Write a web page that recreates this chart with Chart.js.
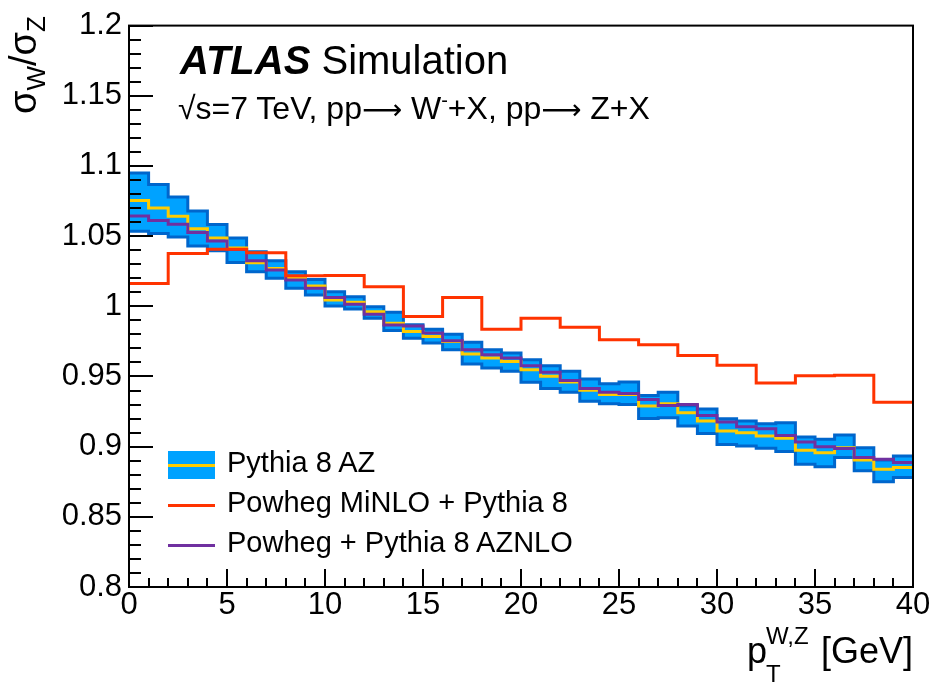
<!DOCTYPE html>
<html lang="en">
<head>
<meta charset="UTF-8">
<title>sigma_W / sigma_Z vs pT</title>
<script src="https://cdn.jsdelivr.net/npm/chart.js"></script>
<style>
  body, html { margin: 0; padding: 0; background: #fff; }
  #wrap { position: relative; width: 940px; height: 683px; font-family: "Liberation Sans", Arial, Helvetica, sans-serif; color: #000; }
  #wrap canvas { position: absolute; left: 0; top: 0; }
  .txt { position: absolute; white-space: nowrap; line-height: 1; }
  .leg { position: absolute; }
  .arr { font-family: "DejaVu Sans", sans-serif; font-size: 28px; }
  sub, sup { line-height: 0; }
</style>
</head>
<body>
<div id="wrap">
  <canvas id="chartCanvas" width="940" height="683"></canvas>

  <div class="txt" style="left:180px; top:40px; font-size:40px;"><b><i>ATLAS</i></b> Simulation</div>
  <div class="txt" style="left:178px; top:92px; font-size:32px;">√s=7 TeV, pp<span class="arr">⟶</span> W<sup style="font-size:20px">-</sup>+X, pp<span class="arr">⟶</span> Z+X</div>

  <!-- legend -->
  <div class="leg" style="left:168px; top:451px; width:47px; height:28px; background:#00a2ff;"></div>
  <div class="leg" style="left:168px; top:464px; width:47px; height:3px; background:#ffcc00;"></div>
  <div class="leg" style="left:168px; top:504px; width:47px; height:3px; background:#ff3300;"></div>
  <div class="leg" style="left:168px; top:544px; width:47px; height:3px; background:#7030a0;"></div>
  <div class="txt" style="left:227px; top:448px; font-size:29px;">Pythia 8 AZ</div>
  <div class="txt" style="left:227px; top:488px; font-size:29px;">Powheg MiNLO + Pythia 8</div>
  <div class="txt" style="left:227px; top:528px; font-size:29px;">Powheg + Pythia 8 AZNLO</div>

  <!-- axis titles -->
  <div class="txt" style="left:747px; top:633px; font-size:36px;">p</div>
  <div class="txt" style="left:766px; top:624px; font-size:24px;">W,Z</div>
  <div class="txt" style="left:766px; top:662px; font-size:24px;">T</div>
  <div class="txt" style="right:27px; top:633px; font-size:36px;">[GeV]</div>
  <div class="txt" style="left:4px; top:114px; font-size:38px; transform:rotate(-90deg); transform-origin:left top;">σ<sub style="font-size:26px">W</sub>/σ<sub style="font-size:26px">Z</sub></div>
</div>

<script>
// bin edges [GeV]
const ptEdges = [0, 1, 2, 3, 4, 5, 6, 7, 8, 9, 10, 11, 12, 13, 14, 15, 16, 17, 18, 19, 20,
                 21, 22, 23, 24, 25, 26, 27, 28, 29, 30, 31, 32, 33, 34, 35, 36, 37, 38, 39, 40];
const ptEdgesWide = [0, 2, 4, 6, 8, 10, 12, 14, 16, 18, 20, 22, 24, 26, 28, 30, 32, 34, 36, 38, 40];

// Pythia 8 AZ: nominal and band
const azNominal = [1.0754, 1.0700, 1.0641, 1.0553, 1.0487, 1.0416, 1.0310, 1.0270, 1.0199, 1.0144,
                   1.0045, 1.0028, 0.9962, 0.9879, 0.9821, 0.9785, 0.9750, 0.9661, 0.9631, 0.9607,
                   0.9548, 0.9501, 0.9461, 0.9402, 0.9371, 0.9371, 0.9289, 0.9305, 0.9241, 0.9182,
                   0.9111, 0.9099, 0.9076, 0.9059, 0.8974, 0.8957, 0.8993, 0.8905, 0.8839, 0.8851];
const azUp = [1.0950, 1.0868, 1.0778, 1.0679, 1.0582, 1.0487, 1.0388, 1.0324, 1.0246, 1.0191,
              1.0104, 1.0068, 0.9997, 0.9957, 0.9868, 0.9837, 0.9801, 0.9743, 0.9690, 0.9667,
              0.9619, 0.9577, 0.9537, 0.9482, 0.9449, 0.9461, 0.9364, 0.9388, 0.9291, 0.9268,
              0.9199, 0.9182, 0.9163, 0.9170, 0.9069, 0.9052, 0.9083, 0.8993, 0.8905, 0.8934];
const azDown = [1.0534, 1.0518, 1.0494, 1.0430, 1.0395, 1.0312, 1.0246, 1.0199, 1.0128, 1.0080,
                1.0002, 0.9981, 0.9915, 0.9828, 0.9773, 0.9738, 0.9690, 0.9589, 0.9560, 0.9537,
                0.9459, 0.9414, 0.9388, 0.9324, 0.9305, 0.9300, 0.9201, 0.9206, 0.9147, 0.9094,
                0.9016, 0.9005, 0.8988, 0.8965, 0.8875, 0.8856, 0.8922, 0.8828, 0.8750, 0.8780];

// Powheg + Pythia 8 AZNLO
const aznlo = [1.0643, 1.0612, 1.0584, 1.0525, 1.0466, 1.0404, 1.0324, 1.0258, 1.0187, 1.0128,
               1.0062, 1.0014, 0.9943, 0.9867, 0.9860, 0.9809, 0.9754, 0.9691, 0.9654, 0.9631,
               0.9577, 0.9530, 0.9472, 0.9414, 0.9388, 0.9378, 0.9336, 0.9293, 0.9300, 0.9222,
               0.9175, 0.9142, 0.9128, 0.9080, 0.9033, 0.9000, 0.8986, 0.8922, 0.8910, 0.8887];

// Powheg MiNLO + Pythia 8 (2 GeV bins)
const minlo = [1.0163, 1.0376, 1.0406, 1.0381, 1.0218, 1.0220, 1.0140, 0.9927, 1.0062, 0.9837,
               0.9915, 0.9851, 0.9761, 0.9726, 0.9650, 0.9580, 0.9454, 0.9506, 0.9508, 0.9317];

const xTicks = [0, 5, 10, 15, 20, 25, 30, 35, 40];
const yTicks = [0.8, 0.85, 0.9, 0.95, 1.0, 1.05, 1.1, 1.15, 1.2];

// histogram outline: two points per bin
function stepPoints(edges, vals) {
    const pts = [];
    vals.forEach((v, i) => {
        pts.push({ x: edges[i], y: v });
        pts.push({ x: edges[i + 1], y: v });
    });
    return pts;
}

function fmt(v) { return String(parseFloat(v.toFixed(2))); }

// ROOT-like frame with inward ticks
const frameTicks = {
    id: 'frameTicks',
    afterDatasetsDraw(chart) {
        const { ctx, chartArea: a, scales: { x, y } } = chart;
        ctx.save();
        ctx.strokeStyle = '#000';
        ctx.lineWidth = 2;
        ctx.beginPath();
        ptEdges.forEach(v => {
            const px = Math.round(x.getPixelForValue(v));
            const len = xTicks.includes(v) ? 18 : 9;
            ctx.moveTo(px, a.bottom);
            ctx.lineTo(px, a.bottom - len);
        });
        for (let k = 0; k <= 40; k++) {
            const py = Math.round(y.getPixelForValue(0.8 + k * 0.01));
            const len = k % 5 === 0 ? 24 : 12;
            ctx.moveTo(a.left, py);
            ctx.lineTo(a.left + len, py);
        }
        ctx.stroke();
        ctx.strokeRect(a.left, a.top, a.right - a.left, a.bottom - a.top);
        ctx.restore();
    }
};

const tickFont = { family: '"Liberation Sans", Arial, Helvetica, sans-serif', size: 31 };

new Chart(document.getElementById('chartCanvas').getContext('2d'), {
    type: 'line',
    data: {
        datasets: [
            { label: 'AZ up', data: stepPoints(ptEdges, azUp), borderColor: '#0066cc', borderWidth: 3,
              backgroundColor: '#00a2ff', fill: false, order: 5 },
            { label: 'AZ down', data: stepPoints(ptEdges, azDown), borderColor: '#0066cc', borderWidth: 3,
              backgroundColor: '#00a2ff', fill: '-1', order: 6 },
            { label: 'Pythia 8 AZ', data: stepPoints(ptEdges, azNominal), borderColor: '#ffcc00', borderWidth: 3, order: 3 },
            { label: 'Powheg + Pythia 8 AZNLO', data: stepPoints(ptEdges, aznlo), borderColor: '#7030a0', borderWidth: 3, order: 2 },
            { label: 'Powheg MiNLO + Pythia 8', data: stepPoints(ptEdgesWide, minlo), borderColor: '#ff3300', borderWidth: 3, order: 1 }
        ]
    },
    options: {
        responsive: false,
        animation: false,
        events: [],
        layout: { padding: { top: 20, right: 27, left: 0, bottom: 0 } },
        elements: { point: { radius: 0 }, line: { tension: 0, borderJoinStyle: 'miter', borderCapStyle: 'butt' } },
        plugins: {
            legend: { display: false },
            tooltip: { enabled: false },
            filler: { drawTime: 'beforeDatasetsDraw' }
        },
        scales: {
            x: {
                type: 'linear', min: 0, max: 40,
                afterBuildTicks: s => { s.ticks = xTicks.map(v => ({ value: v })); },
                afterFit: s => { s.height = 96; },
                ticks: { font: tickFont, color: '#000', padding: 0, maxRotation: 0, autoSkip: false, callback: v => String(v) },
                grid: { display: false, drawTicks: false },
                border: { display: false }
            },
            y: {
                type: 'linear', min: 0.8, max: 1.2,
                afterBuildTicks: s => { s.ticks = yTicks.map(v => ({ value: v })); },
                afterFit: s => { s.width = 129; },
                ticks: { font: tickFont, color: '#000', padding: 7, autoSkip: false, callback: v => fmt(v) },
                grid: { display: false, drawTicks: false },
                border: { display: false }
            }
        }
    },
    plugins: [frameTicks]
});
</script>
</body>
</html>
